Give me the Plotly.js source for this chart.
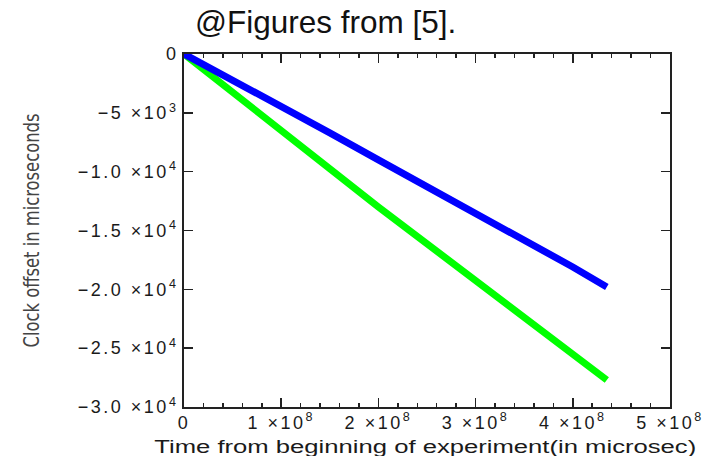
<!DOCTYPE html>
<html>
<head>
<meta charset="utf-8">
<script src="https://cdn.plot.ly/plotly-3.0.1.min.js"></script>
<style>
  html, body { margin: 0; padding: 0; background: #fff; }
  #chart { width: 715px; height: 456px; }
  /* wider tracking for the tick labels */
  #chart .xtick text, #chart .ytick text { letter-spacing: 2.5px; }
</style>
</head>
<body>
<div id="chart"></div>
<script>
// Elapsed time since the start of the experiment (microseconds)
const timeBlue  = [0, 0.5e8, 1e8, 1.5e8, 2e8, 2.5e8, 3e8, 3.5e8, 4e8, 4.35e8];
const timeGreen = [0, 0.5e8, 1e8, 1.5e8, 2e8, 2.5e8, 3e8, 3.5e8, 4e8, 4.35e8];

// Clock offset of each node (microseconds)
const offsetBlue  = [0, -2200, -4380, -6700, -9000, -11250, -13600, -15850, -18100, -19800];
const offsetGreen = [0, -3200, -6450, -9750, -13000, -16150, -19300, -22400, -25450, -27700];

// Axis ticks
const xTickVals = [0, 1e8, 2e8, 3e8, 4e8, 5e8];
const xTickText = ['0', '1 ×10<sup>8</sup>', '2 ×10<sup>8</sup>', '3 ×10<sup>8</sup>', '4 ×10<sup>8</sup>', '5 ×10<sup>8</sup>'];
const yTickVals = [0, -5000, -10000, -15000, -20000, -25000, -30000];
const yTickText = ['0', '−5 ×10<sup>3</sup>', '−1.0 ×10<sup>4</sup>', '−1.5 ×10<sup>4</sup>',
                   '−2.0 ×10<sup>4</sup>', '−2.5 ×10<sup>4</sup>', '−3.0 ×10<sup>4</sup>'];

const xTitle = 'Time from beginning of experiment(in microsec)';
const yTitle = 'Clock offset in microseconds';

const traces = [
  {
    x: timeGreen, y: offsetGreen, type: 'scatter', mode: 'lines',
    line: { color: '#00ff00', width: 7 }, hoverinfo: 'skip'
  },
  {
    x: timeBlue, y: offsetBlue, type: 'scatter', mode: 'lines',
    line: { color: '#0000ff', width: 7 }, hoverinfo: 'skip'
  }
];

const axisCommon = {
  showline: true, linewidth: 2, linecolor: '#222',
  mirror: 'ticks', ticks: 'inside', ticklen: 9, tickwidth: 1.5, tickcolor: '#222',
  showgrid: false, zeroline: false,
  tickfont: { family: 'Liberation Sans, Arial, sans-serif', size: 18, color: '#1a1a1a' }
};

const layout = {
  width: 715, height: 456,
  margin: { l: 184, r: 45, t: 54, b: 49 },
  paper_bgcolor: '#fff', plot_bgcolor: '#fff',
  showlegend: false,
  title: {
    text: '@Figures from [5].',
    font: { family: 'Liberation Sans, Arial, sans-serif', size: 31.5, color: '#111' },
    xref: 'container', yref: 'container',
    x: 195 / 715, xanchor: 'left',
    y: 1 - 22 / 456, yanchor: 'middle'
  },
  xaxis: Object.assign({}, axisCommon, {
    range: [0, 5e8],
    tickmode: 'array', tickvals: xTickVals, ticktext: xTickText,
    ticklabelstandoff: -2,
    minor: { dtick: 2e7, ticks: 'inside', ticklen: 4, tickwidth: 1.5, tickcolor: '#222' }
  }),
  yaxis: Object.assign({}, axisCommon, {
    range: [-30000, 0],
    tickmode: 'array', tickvals: yTickVals, ticktext: yTickText,
    title: {
      text: yTitle,
      font: { family: 'Liberation Sans Narrow, DejaVu Sans Condensed, sans-serif', size: 22, color: '#444' },
      standoff: 55
    }
  }),
  annotations: [{
    text: xTitle, showarrow: false,
    xref: 'paper', yref: 'paper',
    x: 0.496, xanchor: 'center',
    y: -0.113, yanchor: 'middle',
    font: { family: 'Liberation Sans, Arial, sans-serif', size: 18, color: '#1a1a1a' }
  }]
};

// Stretch or compress a title to its set length along the text direction
function fitText(selector, length) {
  const el = document.querySelector(selector);
  if (el) {
    el.setAttribute('textLength', length);
    el.setAttribute('lengthAdjust', 'spacingAndGlyphs');
  }
}

Plotly.newPlot('chart', traces, layout, { staticPlot: true, displayModeBar: false }).then(() => {
  fitText('#chart .annotation-text', 542);
  fitText('#chart .ytitle', 234);
});
</script>
</body>
</html>
